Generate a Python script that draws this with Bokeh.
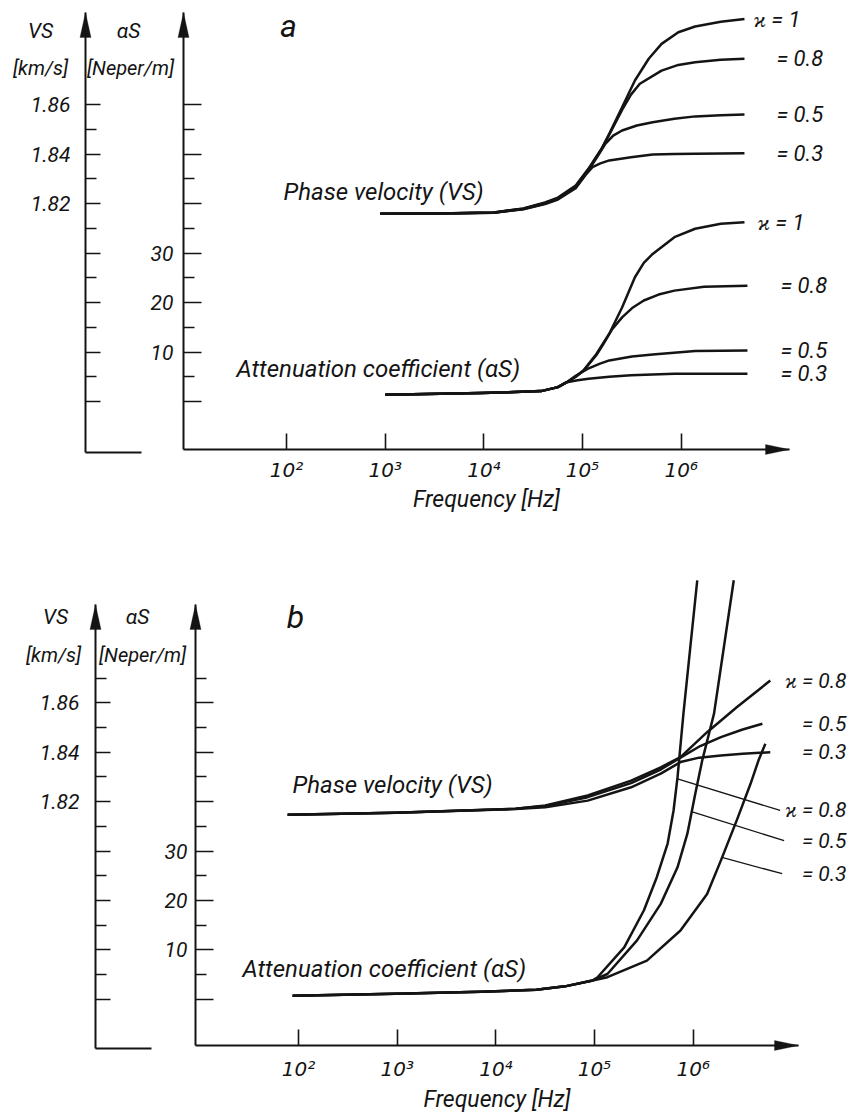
from bokeh.plotting import figure
from bokeh.models import Range1d, LinearAxis, FixedTicker, PolyAnnotation
from bokeh.layouts import column
from bokeh.embed import file_html
from bokeh.resources import INLINE
from bokeh.core.properties import value

FONT = "Roboto"
SUP_FONT = "DejaVu Sans"
INK = "#141414"
PAGE_W = 851

# ---------------- axis ticks ----------------
freq_ticks = [2, 3, 4, 5, 6]
freq_tick_labels = ["10²", "10³", "10⁴", "10⁵", "10⁶"]
vs_major_ticks = [1.74, 1.76, 1.78, 1.80, 1.82, 1.84, 1.86]
vs_minor_ticks_a = [1.75, 1.77, 1.79, 1.81, 1.83, 1.85]
vs_minor_ticks_b = [1.75, 1.77, 1.79, 1.81, 1.83, 1.85, 1.87]
vs_labelled = [1.82, 1.84, 1.86]
alpha_major_ticks = [0, 10, 20, 30, 40, 50, 60]
alpha_minor_ticks_a = [5, 15, 25, 35, 45, 55]
alpha_minor_ticks_b = [5, 15, 25, 35, 45, 55, 65]
alpha_labelled = [10, 20, 30]
ALPHA_ZERO_VS = 1.74      # alpha axis 0 sits level with VS 1.74
ALPHA_PER_VS = 500.0      # 10 Neper/m per 0.02 km/s of the VS axis

# ---------------- panel a : phase velocity (log10 f, VS km/s) ----------------
pv_a_k10_logf = [2.95, 3.53, 4.10, 4.40, 4.62, 4.75, 4.93, 5.06, 5.19, 5.27, 5.40, 5.53, 5.67, 5.80, 5.97, 6.14, 6.40, 6.64]
pv_a_k10_vs = [1.8159, 1.8160, 1.8164, 1.8180, 1.8204, 1.8224, 1.8273, 1.8341, 1.8420, 1.8482, 1.8589, 1.8697, 1.8785, 1.8845, 1.8892, 1.8915, 1.8934, 1.8945]
pv_a_k08_logf = [2.95, 3.53, 4.10, 4.40, 4.62, 4.75, 4.93, 5.06, 5.19, 5.27, 5.40, 5.49, 5.58, 5.80, 5.97, 6.14, 6.40, 6.64]
pv_a_k08_vs = [1.8159, 1.8160, 1.8164, 1.8179, 1.8202, 1.8221, 1.8270, 1.8338, 1.8418, 1.8478, 1.8578, 1.8640, 1.8684, 1.8737, 1.8760, 1.8771, 1.8781, 1.8785]
pv_a_k05_logf = [2.95, 3.53, 4.10, 4.40, 4.62, 4.75, 4.93, 5.06, 5.15, 5.23, 5.31, 5.40, 5.55, 5.71, 5.93, 6.14, 6.40, 6.64]
pv_a_k05_vs = [1.8159, 1.8160, 1.8163, 1.8178, 1.8200, 1.8219, 1.8266, 1.8334, 1.8390, 1.8441, 1.8474, 1.8495, 1.8515, 1.8528, 1.8542, 1.8552, 1.8557, 1.8560]
pv_a_k03_logf = [2.95, 3.53, 4.10, 4.40, 4.62, 4.75, 4.93, 5.03, 5.10, 5.18, 5.27, 5.49, 5.71, 5.93, 6.14, 6.40, 6.64]
pv_a_k03_vs = [1.8159, 1.8160, 1.8163, 1.8177, 1.8198, 1.8216, 1.8262, 1.8315, 1.8347, 1.8362, 1.8374, 1.8387, 1.8398, 1.8400, 1.8401, 1.8402, 1.8403]

# ---------------- panel a : attenuation (log10 f, alphaS Neper/m) ----------------
att_a_k10_logf = [3.00, 3.97, 4.58, 4.75, 4.84, 4.93, 5.01, 5.14, 5.27, 5.40, 5.53, 5.62, 5.71, 5.93, 6.14, 6.40, 6.64]
att_a_k10_alpha = [1.35, 1.7, 2.1, 2.9, 3.9, 5.0, 6.3, 9.6, 13.7, 19.0, 25.1, 28.0, 29.8, 33.2, 34.9, 35.9, 36.2]
att_a_k08_logf = [3.00, 3.97, 4.58, 4.75, 4.84, 4.93, 5.01, 5.14, 5.21, 5.30, 5.40, 5.51, 5.62, 5.77, 5.93, 6.23, 6.67]
att_a_k08_alpha = [1.35, 1.7, 2.1, 2.9, 3.9, 5.0, 6.2, 9.4, 11.6, 14.6, 17.0, 19.0, 20.4, 21.6, 22.4, 23.2, 23.4]
att_a_k05_logf = [3.00, 3.97, 4.58, 4.75, 4.84, 4.93, 5.05, 5.17, 5.27, 5.50, 5.71, 6.14, 6.67]
att_a_k05_alpha = [1.35, 1.7, 2.1, 2.9, 3.9, 5.2, 6.6, 7.6, 8.3, 9.1, 9.5, 10.2, 10.3]
att_a_k03_logf = [3.00, 3.97, 4.58, 4.75, 4.84, 4.95, 5.06, 5.27, 5.49, 5.93, 6.67]
att_a_k03_alpha = [1.35, 1.7, 2.1, 2.9, 3.9, 4.3, 4.6, 5.0, 5.3, 5.6, 5.6]

# ---------------- panel b : phase velocity ----------------
pv_b_k08_logf = [1.89, 2.98, 4.20, 4.50, 4.93, 5.37, 5.67, 5.87, 6.14, 6.44, 6.78]
pv_b_k08_vs = [1.8147, 1.8155, 1.8171, 1.8184, 1.8225, 1.8285, 1.8339, 1.8380, 1.8481, 1.8582, 1.8690]
pv_b_k05_logf = [1.89, 2.98, 4.20, 4.50, 4.93, 5.37, 5.67, 5.87, 6.07, 6.28, 6.50, 6.70]
pv_b_k05_vs = [1.8147, 1.8155, 1.8171, 1.8182, 1.8218, 1.8275, 1.8330, 1.8378, 1.8425, 1.8461, 1.8492, 1.8515]
pv_b_k03_logf = [1.89, 2.98, 4.20, 4.50, 4.93, 5.37, 5.67, 5.87, 6.06, 6.28, 6.50, 6.78]
pv_b_k03_vs = [1.8147, 1.8155, 1.8170, 1.8177, 1.8204, 1.8258, 1.8313, 1.8360, 1.8378, 1.8387, 1.8394, 1.8400]

# ---------------- panel b : attenuation ----------------
att_b_k08_logf = [1.94, 2.98, 3.85, 4.41, 4.70, 4.98, 5.03, 5.30, 5.50, 5.63, 5.74, 5.80, 5.84, 5.90, 5.97, 6.04]
att_b_k08_alpha = [0.7, 1.1, 1.5, 1.9, 2.6, 3.8, 4.45, 10.5, 18.0, 24.7, 31.5, 38.2, 44.9, 57.8, 71.3, 84.8]
att_b_k05_logf = [1.94, 2.98, 3.85, 4.41, 4.70, 4.98, 5.13, 5.43, 5.67, 5.84, 5.94, 6.02, 6.09, 6.21, 6.31, 6.41]
att_b_k05_alpha = [0.7, 1.1, 1.5, 1.9, 2.6, 3.8, 5.1, 11.9, 19.3, 26.7, 33.5, 41.6, 48.3, 57.8, 71.3, 84.8]
att_b_k03_logf = [1.94, 2.98, 3.85, 4.41, 4.70, 4.98, 5.13, 5.53, 5.87, 6.14, 6.28, 6.44, 6.58, 6.66, 6.73]
att_b_k03_alpha = [0.7, 1.1, 1.5, 1.9, 2.6, 3.8, 4.45, 7.8, 13.9, 21.3, 28.1, 36.2, 43.6, 48.3, 51.7]

# leader lines of panel b (attenuation curve -> label)
leader_from_logf = [5.84, 5.99, 6.29]
leader_from_alpha = [44.6, 37.9, 28.7]
leader_to_logf = [6.88, 6.92, 6.90]
leader_to_alpha = [38.2, 32.1, 25.4]

labels_a = ["ϰ = 1", "= 0.8", "= 0.5", "= 0.3"]
labels_b = ["ϰ = 0.8", "= 0.5", "= 0.3"]


def build(P, vs_minor, alpha_minor, pv, att, pv_texts, att_texts, att_label_y=None, leaders=None):
    ft, H = P["fig_top"], P["height"]
    AX, VX, B = P["ax_alpha"], P["ax_vs"], P["bottom"]

    def X(px):
        return P["x0"] + (px - AX) / P["pxx"]

    def Y(py):
        return P["vs_ref"] - (py - P["vs_ref_y"]) / P["pxy"]

    def to_alpha(v):
        return (v - ALPHA_ZERO_VS) * ALPHA_PER_VS

    xs, xe = X(0), X(PAGE_W)
    ys, ye = Y(ft + H), Y(ft)
    y_axis0 = Y(B)
    ytop = Y(P["axis_top"])

    p = figure(width=PAGE_W, height=H, x_range=Range1d(xs, xe), y_range=Range1d(ys, ye),
               output_backend="svg", toolbar_location=None,
               x_axis_location=None, y_axis_location=None,
               min_border=0, min_border_left=0, min_border_right=0,
               min_border_top=0, min_border_bottom=0)
    p.extra_y_ranges = {"alpha": Range1d(to_alpha(ys), to_alpha(ye))}
    p.grid.visible = False
    p.outline_line_color = None
    p.background_fill_color = "white"
    p.border_fill_color = "white"

    common = dict(axis_line_color=INK, axis_line_width=2, major_tick_line_color=INK,
                  minor_tick_line_color=INK, major_tick_line_width=1.6, minor_tick_line_width=1.4,
                  major_tick_out=0, minor_tick_out=0,
                  major_label_text_font=FONT, major_label_text_font_style="italic",
                  major_label_text_font_size="21px", major_label_text_color=INK)

    # frequency axis (drawn at the level of the alpha axis foot)
    xa = LinearAxis(fixed_location=y_axis0,
                    ticker=FixedTicker(ticks=freq_ticks, minor_ticks=[]),
                    major_label_overrides={t: s for t, s in zip(freq_ticks, freq_tick_labels)},
                    bounds=(X(AX), X(P["arrow_px"])), major_tick_in=16, minor_tick_in=0,
                    major_label_standoff=P["freq_standoff"],
                    axis_label="Frequency [Hz]", axis_label_standoff=P["cap_standoff"],
                    axis_label_text_font=FONT, axis_label_text_font_style="italic",
                    axis_label_text_font_size="23px", axis_label_text_color=INK,
                    **common)
    xa.major_label_text_font = SUP_FONT
    xa.major_label_text_font_size = "20px"
    p.add_layout(xa, "below")

    # alpha axis
    aa = LinearAxis(y_range_name="alpha", fixed_location=X(AX),
                    ticker=FixedTicker(ticks=alpha_major_ticks, minor_ticks=alpha_minor),
                    major_label_overrides={t: (str(t) if t in alpha_labelled else "") for t in alpha_major_ticks},
                    bounds=(to_alpha(y_axis0), to_alpha(ytop)),
                    major_tick_in=18, minor_tick_in=11,
                    major_label_standoff=P["alpha_standoff"], **common)
    p.add_layout(aa, "left")

    # VS axis
    vbot = Y(B + 3)
    va = LinearAxis(fixed_location=X(VX),
                    ticker=FixedTicker(ticks=vs_major_ticks, minor_ticks=vs_minor),
                    major_label_overrides={t: (f"{t:.2f}" if t in vs_labelled else "") for t in vs_major_ticks},
                    bounds=(vbot, ytop), major_tick_in=15, minor_tick_in=11,
                    major_label_standoff=P["vs_standoff"], **common)
    p.add_layout(va, "left")

    # arrow heads and the short foot of the VS axis
    hw, hl = 5.5, 25
    for xpx in (AX, VX):
        tip = P["axis_top"]
        p.add_layout(PolyAnnotation(xs=[X(xpx), X(xpx - hw), X(xpx + hw)],
                                    ys=[Y(tip), Y(tip + hl), Y(tip + hl)],
                                    fill_color=INK, fill_alpha=1, line_color=INK, line_width=1))
    ax = P["arrow_px"]
    p.add_layout(PolyAnnotation(xs=[X(ax), X(ax - 24), X(ax - 24)],
                                ys=[y_axis0, Y(B - 5), Y(B + 5)],
                                fill_color=INK, fill_alpha=1, line_color=INK, line_width=1))
    p.segment(x0=[X(VX)], y0=[vbot], x1=[X(VX + 56)], y1=[vbot], line_color=INK, line_width=2)

    # curves
    for lx, ly in pv:
        p.line(lx, ly, line_color=INK, line_width=2.5, line_join="round")
    for lx, la in att:
        p.line(lx, la, y_range_name="alpha", line_color=INK, line_width=2.5, line_join="round")

    if leaders is not None:
        p.segment(x0=leaders[0], y0=leaders[1], x1=leaders[2], y1=leaders[3],
                  y_range_name="alpha", line_color=INK, line_width=1.3)

    txt = dict(text_font=value(FONT), text_font_style="italic", text_color=INK, text_baseline="middle")
    lab_size = P["lab_size"]
    if P["lab_align"] == "left":
        pv_x = [X(P["pv_kx"] if t.startswith("ϰ") else P["pv_ex"]) for t in pv_texts]
        att_x = [X(P["att_kx"] if t.startswith("ϰ") else P["att_ex"]) for t in att_texts]
    else:
        pv_x = [X(P["lab_right"])] * len(pv_texts)
        att_x = [X(P["lab_right"])] * len(att_texts)
    p.text(x=pv_x, y=[c[1][-1] for c in pv], text=pv_texts, text_font_size=lab_size,
           text_align=P["lab_align"], **txt)
    ay = att_label_y if att_label_y is not None else [c[1][-1] for c in att]
    p.text(x=att_x, y=ay, text=att_texts, y_range_name="alpha", text_font_size=lab_size,
           text_align=P["lab_align"], **txt)

    # panel letter and curve titles
    p.text(x=[X(P["letter"][0])], y=[Y(P["letter"][1])], text=[P["letter"][2]],
           text_font_size=P["letter"][3], text_align="center", **txt)
    p.text(x=[X(P["pv_title"][0]), X(P["att_title"][0])], y=[Y(P["pv_title"][1]), Y(P["att_title"][1])],
           text=["Phase velocity (VS)", "Attenuation coefficient (αS)"], text_font_size="24px", **txt)

    # headers of the two vertical axes
    hx = [X(P["h_vs"][0]), X(P["h_kms"][0]), X(P["h_as"][0]), X(P["h_np"][0])]
    hy = [Y(P["h_vs"][1]), Y(P["h_kms"][1]), Y(P["h_as"][1]), Y(P["h_np"][1])]
    p.text(x=hx[0::2], y=hy[0::2], text=["VS", "αS"], text_font_size="21px", text_align="center", **txt)
    p.text(x=hx[1::2], y=hy[1::2], text=["[km/s]", "[Neper/m]"], text_font_size="20px",
           text_align="center", **txt)
    return p


PA = dict(fig_top=0, height=556, ax_alpha=183, ax_vs=85, bottom=449, axis_top=12,
          x0=0.9564, pxx=98.7, vs_ref=1.86, vs_ref_y=104, pxy=2475,
          arrow_px=789, alpha_standoff=10, vs_standoff=15, freq_standoff=8, cap_standoff=1,
          lab_size="22px", lab_align="left", pv_kx=753, pv_ex=776, att_kx=757, att_ex=780,
          letter=(288, 25, "a", "32px"), pv_title=(283, 191), att_title=(236, 368),
          h_vs=(40, 30), h_kms=(40, 67), h_as=(128, 30), h_np=(130, 67))

PB = dict(fig_top=556, height=556, ax_alpha=195, ax_vs=95, bottom=1045, axis_top=604,
          x0=0.9564, pxx=98.7, vs_ref=1.86, vs_ref_y=702.3, pxy=2470,
          arrow_px=798, alpha_standoff=8, vs_standoff=16, freq_standoff=11, cap_standoff=2,
          lab_size="21px", lab_align="right", lab_right=846,
          letter=(295, 616, "b", "32px"), pv_title=(292, 784), att_title=(242, 968),
          h_vs=(55, 616), h_kms=(53, 654), h_as=(137, 616), h_np=(142, 654))

pa = build(PA, vs_minor_ticks_a, alpha_minor_ticks_a,
           [(pv_a_k10_logf, pv_a_k10_vs), (pv_a_k08_logf, pv_a_k08_vs),
            (pv_a_k05_logf, pv_a_k05_vs), (pv_a_k03_logf, pv_a_k03_vs)],
           [(att_a_k10_logf, att_a_k10_alpha), (att_a_k08_logf, att_a_k08_alpha),
            (att_a_k05_logf, att_a_k05_alpha), (att_a_k03_logf, att_a_k03_alpha)],
           labels_a, labels_a)

pb = build(PB, vs_minor_ticks_b, alpha_minor_ticks_b,
           [(pv_b_k08_logf, pv_b_k08_vs), (pv_b_k05_logf, pv_b_k05_vs), (pv_b_k03_logf, pv_b_k03_vs)],
           [(att_b_k08_logf, att_b_k08_alpha), (att_b_k05_logf, att_b_k05_alpha),
            (att_b_k03_logf, att_b_k03_alpha)],
           labels_b, labels_b, att_label_y=leader_to_alpha,
           leaders=(leader_from_logf, leader_from_alpha, leader_to_logf, leader_to_alpha))

layout = column(pa, pb, spacing=0)
open("out.html", "w").write(file_html(layout, INLINE))
